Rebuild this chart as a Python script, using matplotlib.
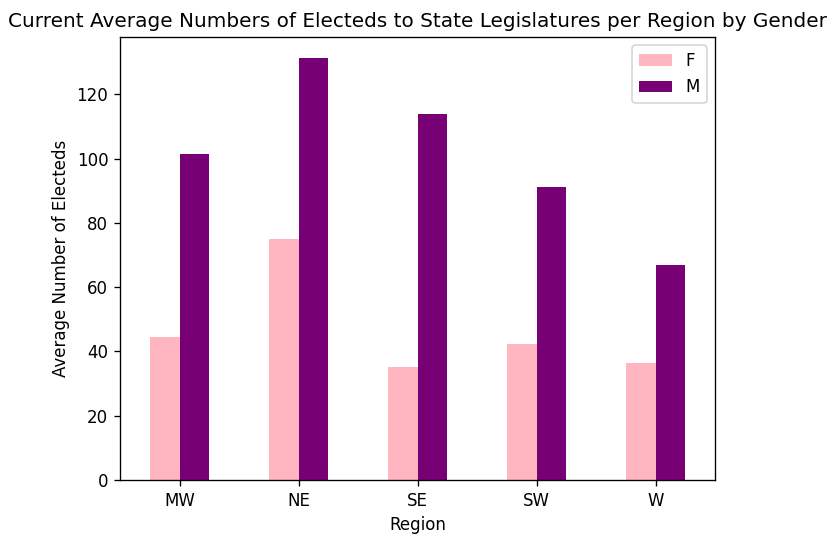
import numpy as np
import matplotlib
matplotlib.use("Agg")
import matplotlib.pyplot as plt

regions = ["MW", "NE", "SE", "SW", "W"]
female = [44.4, 75.0, 35.2, 42.2, 36.3]
male = [101.4, 131.3, 113.8, 91.1, 66.9]

W, H, DPI = 832, 543, 120
fig = plt.figure(figsize=(W / DPI, H / DPI), dpi=DPI)
ax = fig.add_axes([120 / W, 1 - 480 / H, (715 - 120) / W, (480 - 37) / H])

x = np.arange(len(regions))
width = 0.25
ax.bar(x - width / 2, female, width, color="#ffb6c1", label="F")
ax.bar(x + width / 2, male, width, color="#770075", label="M")

ax.set_xticks(x)
ax.set_xticklabels(regions)
ax.set_xlim(-0.5, len(regions) - 0.5)
ax.set_xlabel("Region")
ax.set_ylabel("Average Number of Electeds")
ax.set_title("Current Average Numbers of Electeds to State Legislatures per Region by Gender")
ax.legend(loc="upper right")

fig.savefig("out.png", dpi=DPI)
